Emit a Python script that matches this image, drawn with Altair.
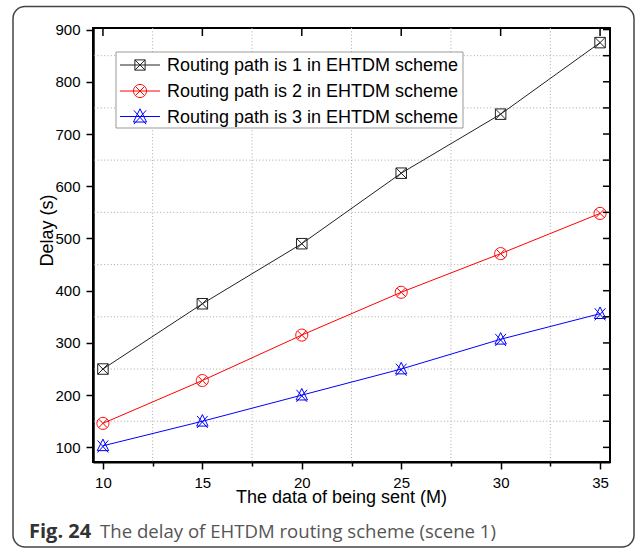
import altair as alt
import pandas as pd

# ---- data ----
data_sent = [10, 15, 20, 25, 30, 35]
path1 = [250, 375, 490, 625, 738, 875]
path2 = [146, 228, 315, 397, 471, 548]
path3 = [103, 150, 200, 250, 307, 356]
series_names = [
    "Routing path is 1 in EHTDM scheme",
    "Routing path is 2 in EHTDM scheme",
    "Routing path is 3 in EHTDM scheme",
]
x_ticks = [10, 12.5, 15, 17.5, 20, 22.5, 25, 27.5, 30, 32.5, 35]
x_major = [10, 15, 20, 25, 30, 35]
x_grid = [12.5, 17.5, 22.5, 27.5, 32.5]
y_ticks = [100, 150, 200, 250, 300, 350, 400, 450, 500, 550, 600, 650, 700, 750, 800, 850, 900]
y_grid = [150, 250, 350, 450, 550, 650, 750, 850]

colors = ["#222222", "#ff0000", "#0000ff"]
sq_x = "M-1,-1H1V1H-1Z M-1,-1L1,1 M1,-1L-1,1"
circ_x = "M-1,0A1,1 0 1,0 1,0A1,1 0 1,0 -1,0Z M-0.707,-0.707L0.707,0.707 M0.707,-0.707L-0.707,0.707"
tri_x = "M0,-1L0.85,0.72L-0.85,0.72Z M-0.8,-0.8L0.8,1 M0.8,-0.8L-0.8,1"
shapes = [sq_x, circ_x, tri_x]
sizes = [110, 180, 250]

rows = []
for name, vals in zip(series_names, [path1, path2, path3]):
    for xv, yv in zip(data_sent, vals):
        rows.append({"series": name, "x": xv, "y": yv})
df = pd.DataFrame(rows)

W, H = 517, 434
FONT = "Liberation Sans"

xscale = alt.Scale(domain=[9.5, 35.5], nice=False, zero=False)
yscale = alt.Scale(domain=[72, 903], nice=False, zero=False)

is_major_x = "datum.value % 5 === 0"
is_major_y = "datum.value % 100 === 0"

xaxis = alt.Axis(
    values=x_ticks, title="The data of being sent (M)",
    labelExpr=f"{is_major_x} ? datum.label : ''",
    tickSize={"condition": {"test": is_major_x, "value": 7}, "value": 4},
    grid=False,
    labelFlush=False, labelOverlap=False, labelPadding=6,
    labelFont=FONT, labelFontSize=15, labelColor="black",
    titleFont=FONT, titleFontSize=18, titleFontWeight="normal", titleColor="black",
    titleX=248, titleY=40, titleBaseline="alphabetic",
    domainColor="black", domainWidth=2, tickColor="black", tickWidth=1.5,
)
yaxis = alt.Axis(
    values=y_ticks, title="Delay (s)",
    labelExpr=f"{is_major_y} ? datum.label : ''",
    tickSize={"condition": {"test": is_major_y, "value": 7}, "value": 4},
    grid=False,
    labelFlush=False, labelOverlap=False, labelPadding=6,
    labelFont=FONT, labelFontSize=15, labelColor="black",
    titleFont=FONT, titleFontSize=18, titleFontWeight="normal", titleColor="black",
    titleX=-46, titleY=202, titleBaseline="middle", titleAngle=-90,
    domainColor="black", domainWidth=2.5, tickColor="black", tickWidth=1.5,
)

color_scale = alt.Scale(domain=series_names, range=colors)

# dotted grid
vgrid = alt.Chart(pd.DataFrame({"x": x_grid})).mark_rule(
    color="#a8a8a8", strokeWidth=1, strokeDash=[1, 2.3]
).encode(x=alt.X("x:Q", scale=xscale))
hgrid = alt.Chart(pd.DataFrame({"y": y_grid})).mark_rule(
    color="#a8a8a8", strokeWidth=1, strokeDash=[1, 2.3]
).encode(y=alt.Y("y:Q", scale=yscale))

lines = alt.Chart(df).mark_line(strokeWidth=1).encode(
    x=alt.X("x:Q", scale=xscale, axis=xaxis),
    y=alt.Y("y:Q", scale=yscale, axis=yaxis),
    color=alt.Color("series:N", scale=color_scale, legend=None),
    detail="series:N",
)
points = alt.Chart(df).mark_point(filled=False, strokeWidth=1, opacity=1).encode(
    x=alt.X("x:Q", scale=xscale),
    y=alt.Y("y:Q", scale=yscale),
    color=alt.Color("series:N", scale=color_scale, legend=None),
    shape=alt.Shape("series:N", scale=alt.Scale(domain=series_names, range=shapes), legend=None),
    size=alt.Size("series:N", scale=alt.Scale(domain=series_names, range=sizes), legend=None),
)

# top (inward) ticks and right (inward) ticks
top_ticks = alt.Chart(pd.DataFrame({"x": x_major})).mark_rule(color="black", strokeWidth=1.5).encode(
    x=alt.X("x:Q", scale=xscale), y=alt.value(0), y2=alt.value(8)
)
right_ticks = alt.Chart(pd.DataFrame({"y": y_ticks})).mark_rule(color="black", strokeWidth=1.5).encode(
    y=alt.Y("y:Q", scale=yscale), x=alt.value(W), x2=alt.value(W - 7)
)

# outer rounded frame
frame = alt.Chart(pd.DataFrame({"a": [0]})).mark_rect(
    fillOpacity=0, stroke="#444444", strokeWidth=1.5, cornerRadius=12
).encode(x=alt.value(-80), x2=alt.value(541), y=alt.value(-21.5), y2=alt.value(519))

# legend
legend_box = alt.Chart(pd.DataFrame({"a": [0]})).mark_rect(
    fill="white", stroke="#999999", strokeWidth=1
).encode(x=alt.value(23), x2=alt.value(370), y=alt.value(24), y2=alt.value(100))

legend_layers = []
row_y = [37, 63, 88.5]
for i, name in enumerate(series_names):
    ld = pd.DataFrame({"label": [name]})
    legend_layers.append(
        alt.Chart(ld).mark_rule(color=colors[i], strokeWidth=1).encode(
            x=alt.value(27), x2=alt.value(67), y=alt.value(row_y[i]))
    )
    legend_layers.append(
        alt.Chart(ld).mark_point(shape=shapes[i], filled=False, color=colors[i],
                                 size=sizes[i] * 0.95, strokeWidth=1, opacity=1).encode(
            x=alt.value(47), y=alt.value(row_y[i]))
    )
    legend_layers.append(
        alt.Chart(ld).mark_text(font=FONT, fontSize=18, align="left", baseline="middle",
                                color="black").encode(
            x=alt.value(74), y=alt.value(row_y[i] + 1), text="label:N")
    )

# caption
cap1 = alt.Chart(pd.DataFrame({"t": ["Fig. 24"]})).mark_text(
    font="Open Sans", fontSize=20, fontWeight="bold", align="left", baseline="middle", color="#333333"
).encode(x=alt.value(-64), y=alt.value(504), text="t:N")
cap2 = alt.Chart(pd.DataFrame({"t": ["The delay of EHTDM routing scheme (scene 1)"]})).mark_text(
    font="Open Sans", fontSize=18.6, align="left", baseline="middle", color="#555555"
).encode(x=alt.value(7), y=alt.value(504), text="t:N")

chart = alt.layer(
    frame, vgrid, hgrid, lines, points, top_ticks, right_ticks, legend_box, *legend_layers, cap1, cap2
).properties(
    width=W, height=H,
    autosize=alt.AutoSizeParams(type="none"),
    padding={"left": 93, "top": 28, "right": 27, "bottom": 93},
    background="white",
).configure_view(stroke="black", strokeWidth=2)

chart.save("out.html", embed_options={"renderer": "svg", "actions": False})
